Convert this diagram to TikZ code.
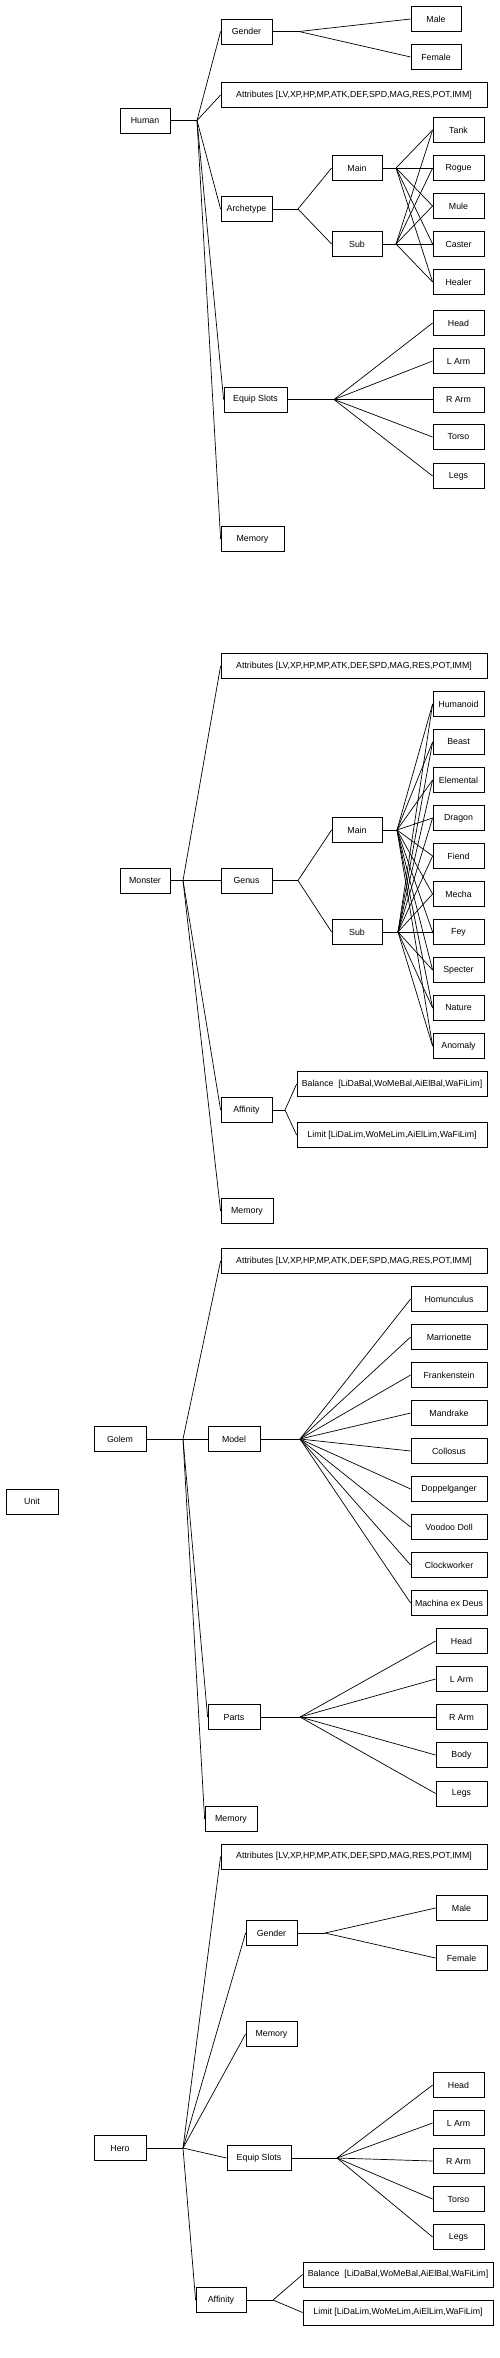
\documentclass[tikz,border=0pt]{standalone}
\usepackage{fontspec}
\setmainfont{Liberation Sans}
\newcommand\attrtext{Attributes [LV,XP,HP,MP,ATK,DEF,SPD,MAG,RES,POT,IMM]}
\newcommand\baltext{Balance\ \ [LiDaBal,WoMeBal,AiElBal,WaFiLim]}
\newcommand\limtext{Limit [LiDaLim,WoMeLim,AiElLim,WaFiLim]}
\newcommand\bx[5]{\node[box,minimum width=#4pt] (#1) at (#2,#3) {#5};}
\tikzset{
  box/.style={draw, line width=0.8pt, inner sep=0pt, minimum height=25pt,
    font=\fontsize{8.8}{10}\selectfont, anchor=center},
  wire/.style={line width=0.7pt}
}
\begin{document}
\begin{tikzpicture}[x=1pt,y=-1pt]
\fill[white] (0,0) rectangle (500,2358);
\useasboundingbox (0,0) rectangle (500,2358);
% ================= Human =================
\bx{human}{145}{120.5}{50}{Human}
\bx{hgender}{246.5}{31.5}{51}{Gender}
\bx{hmale}{436}{19}{50}{Male}
\bx{hfemale}{436}{57}{50}{Female}
\bx{hattr}{354}{95}{266}{\attrtext}
\bx{harch}{246.5}{209}{51}{Archetype}
\bx{hmain}{357}{168}{50}{Main}
\bx{hsub}{357}{244}{50}{Sub}
\foreach \n/\y/\t in {htank/130/Tank, hrogue/168/Rogue, hmule/206/Mule, hcaster/244/Caster, hhealer/282/Healer}
  {\bx{\n}{458.5}{\y}{51}{\t}}
\bx{hequip}{255.5}{399.5}{63}{Equip Slots}
\foreach \n/\y/\t in {hhead/323/Head, hlarm/361/L Arm, hrarm/399.5/R Arm, htorso/437/Torso, hlegs/476/Legs}
  {\bx{\n}{458.5}{\y}{51}{\t}}
\bx{hmem}{252.5}{539}{63}{Memory}
\coordinate (hJ) at (197,120.5);
\coordinate (hgJ) at (299,31.5);
\coordinate (haJ) at (298,209);
\coordinate (hmJ) at (396,168);
\coordinate (hsJ) at (396,244);
\coordinate (heJ) at (334,399.5);
\draw[wire] (human.east) -- (hJ);
\foreach \c in {hgender,hattr,harch,hequip,hmem} \draw[wire] (hJ) -- (\c.west);
\draw[wire] (hgender.east) -- (hgJ);
\foreach \c in {hmale,hfemale} \draw[wire] (hgJ) -- (\c.west);
\draw[wire] (harch.east) -- (haJ);
\foreach \c in {hmain,hsub} \draw[wire] (haJ) -- (\c.west);
\draw[wire] (hmain.east) -- (hmJ);
\draw[wire] (hsub.east) -- (hsJ);
\foreach \c in {htank,hrogue,hmule,hcaster,hhealer} {
  \draw[wire] (hmJ) -- (\c.west);
  \draw[wire] (hsJ) -- (\c.west);
}
\draw[wire] (hequip.east) -- (heJ);
\foreach \c in {hhead,hlarm,hrarm,htorso,hlegs} \draw[wire] (heJ) -- (\c.west);
% ================= Monster =================
\bx{monster}{145}{880.5}{50}{Monster}
\bx{mattr}{354}{666}{266}{\attrtext}
\bx{genus}{246.5}{880.5}{51}{Genus}
\bx{mmain}{357}{830}{50}{Main}
\bx{msub}{357}{932}{50}{Sub}
\foreach \n/\y/\t in {humanoid/704/Humanoid, beast/742/Beast, elemental/780/Elemental, dragon/818/Dragon, fiend/856/Fiend, mecha/894/Mecha, fey/932/Fey, specter/970/Specter, nature/1008/Nature, anomaly/1046/Anomaly}
  {\bx{\n}{458.5}{\y}{51}{\t}}
\bx{maff}{246.5}{1110}{51}{Affinity}
\bx{mbal}{392}{1084}{190}{\baltext}
\bx{mlim}{392}{1135}{190}{\limtext}
\bx{mmem}{247}{1211}{52}{Memory}
\coordinate (mJ) at (183,880.5);
\coordinate (mgJ) at (298,880.5);
\coordinate (mmJ) at (397,830);
\coordinate (msJ) at (398,932);
\coordinate (mfJ) at (285,1110);
\draw[wire] (monster.east) -- (mJ);
\foreach \c in {mattr,genus,maff,mmem} \draw[wire] (mJ) -- (\c.west);
\draw[wire] (genus.east) -- (mgJ);
\foreach \c in {mmain,msub} \draw[wire] (mgJ) -- (\c.west);
\draw[wire] (mmain.east) -- (mmJ);
\draw[wire] (msub.east) -- (msJ);
\foreach \c in {humanoid,beast,elemental,dragon,fiend,mecha,fey,specter,nature,anomaly} {
  \draw[wire] (mmJ) -- (\c.west);
  \draw[wire] (msJ) -- (\c.west);
}
\draw[wire] (maff.east) -- (mfJ);
\foreach \c in {mbal,mlim} \draw[wire] (mfJ) -- (\c.west);
% ================= Golem =================
\bx{golem}{120}{1439}{52}{Golem}
\bx{gattr}{354}{1261}{266}{\attrtext}
\bx{model}{234}{1439}{52}{Model}
\foreach \n/\y/\t in {homunculus/1299/Homunculus, marrionette/1337/Marrionette, frankenstein/1375/Frankenstein, mandrake/1413/Mandrake, collosus/1451/Collosus, doppelganger/1489/Doppelganger, voodoo/1527/Voodoo Doll, clockworker/1565/Clockworker, machina/1603/Machina ex Deus}
  {\bx{\n}{449}{\y}{76}{\t}}
\bx{parts}{234}{1717}{52}{Parts}
\foreach \n/\y/\t in {ghead/1641/Head, glarm/1679/L Arm, grarm/1717/R Arm, gbody/1755/Body, glegs/1793.5/Legs}
  {\bx{\n}{461.5}{\y}{51}{\t}}
\bx{gmem}{231}{1819}{52}{Memory}
\coordinate (gJ) at (183,1439);
\coordinate (gmJ) at (300,1439);
\coordinate (gpJ) at (300,1717);
\draw[wire] (golem.east) -- (gJ);
\foreach \c in {gattr,model,parts,gmem} \draw[wire] (gJ) -- (\c.west);
\draw[wire] (model.east) -- (gmJ);
\foreach \c in {homunculus,marrionette,frankenstein,mandrake,collosus,doppelganger,voodoo,clockworker,machina} \draw[wire] (gmJ) -- (\c.west);
\draw[wire] (parts.east) -- (gpJ);
\foreach \c in {ghead,glarm,grarm,gbody,glegs} \draw[wire] (gpJ) -- (\c.west);
% ================= Unit =================
\bx{unit}{32}{1501.5}{52}{Unit}
% ================= Hero =================
\bx{hero}{120}{2148}{52}{Hero}
\bx{rattr}{354}{1856.5}{266}{\attrtext}
\bx{rgender}{271.5}{1933}{51}{Gender}
\bx{rmale}{461.5}{1908}{51}{Male}
\bx{rfemale}{461.5}{1958}{51}{Female}
\bx{rmem}{271.5}{2034}{51}{Memory}
\bx{requip}{259}{2158}{64}{Equip Slots}
\foreach \n/\y/\t in {rhead/2085/Head, rlarm/2123/L Arm, rrarm/2161/R Arm, rtorso/2199/Torso, rlegs/2237/Legs}
  {\bx{\n}{458.5}{\y}{51}{\t}}
\bx{raff}{221}{2300}{50}{Affinity}
\bx{rbal}{398}{2274.5}{190}{\baltext}
\bx{rlim}{398}{2312.5}{190}{\limtext}
\coordinate (rJ) at (183,2148);
\coordinate (rgJ) at (325,1933);
\coordinate (reJ) at (337,2158);
\coordinate (rfJ) at (273,2300);
\draw[wire] (hero.east) -- (rJ);
\foreach \c in {rattr,rgender,rmem,requip,raff} \draw[wire] (rJ) -- (\c.west);
\draw[wire] (rgender.east) -- (rgJ);
\foreach \c in {rmale,rfemale} \draw[wire] (rgJ) -- (\c.west);
\draw[wire] (requip.east) -- (reJ);
\foreach \c in {rhead,rlarm,rrarm,rtorso,rlegs} \draw[wire] (reJ) -- (\c.west);
\draw[wire] (raff.east) -- (rfJ);
\foreach \c in {rbal,rlim} \draw[wire] (rfJ) -- (\c.west);
\end{tikzpicture}
\end{document}
